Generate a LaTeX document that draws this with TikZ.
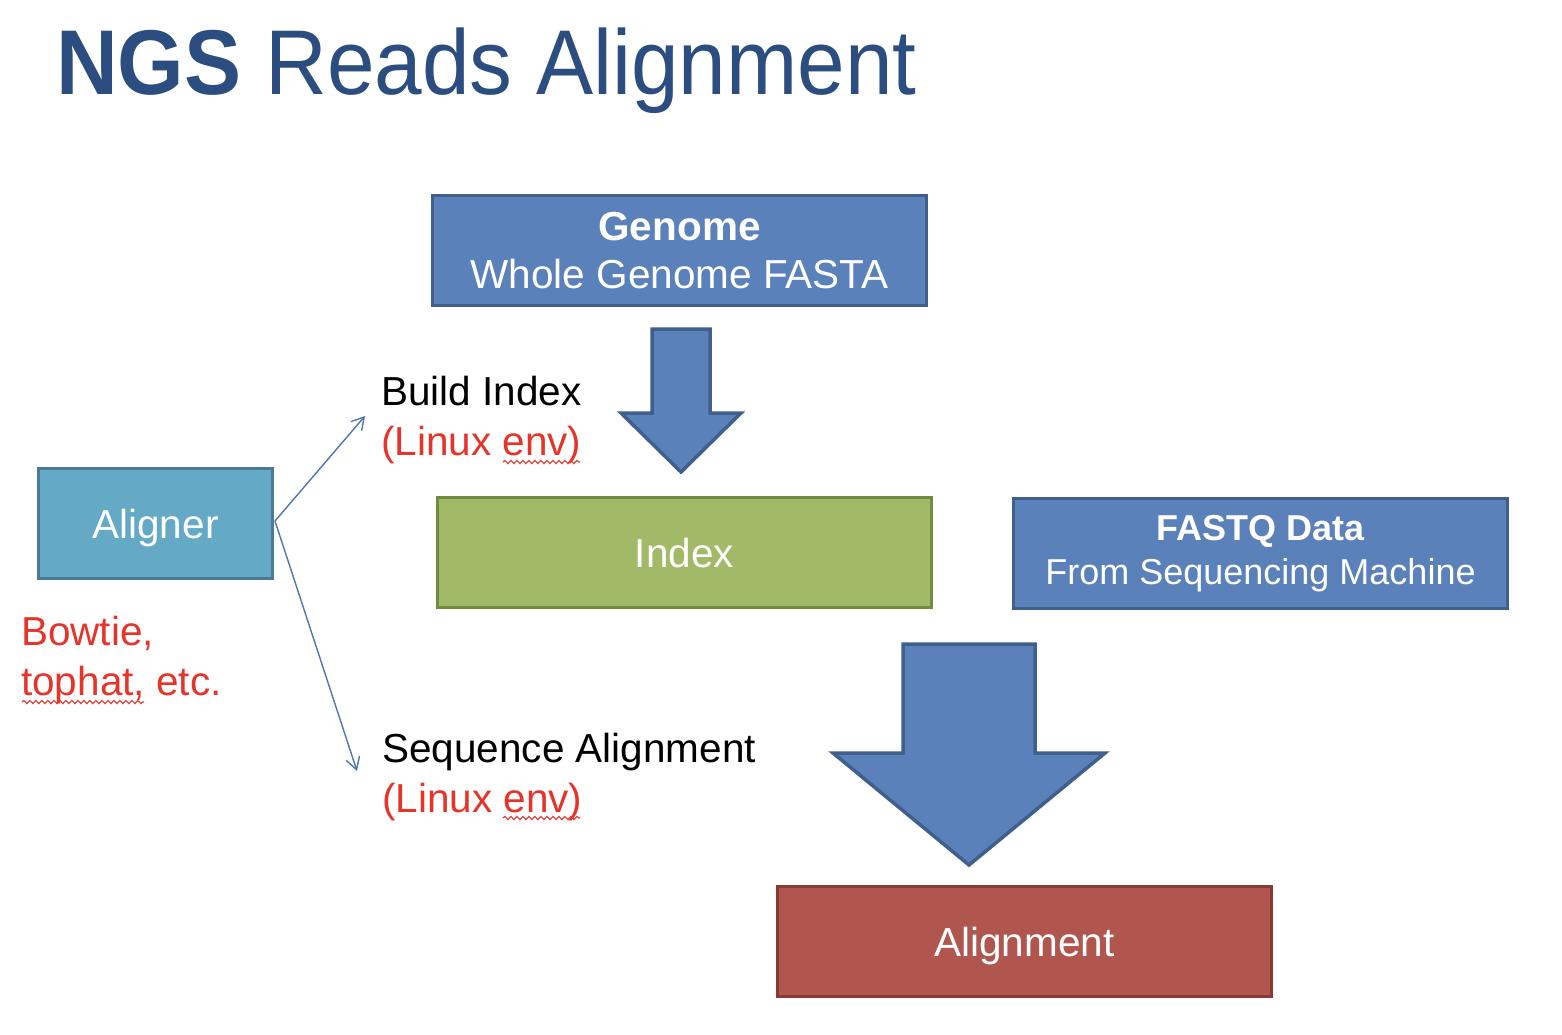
\documentclass[tikz,border=0pt]{standalone}
\usepackage{fontspec}
\setmainfont{Liberation Sans}
\usetikzlibrary{arrows.meta,decorations.pathmorphing}
\definecolor{titleblue}{HTML}{2C4D7F}
\definecolor{boxblue}{HTML}{5A81B9}
\definecolor{boxblueD}{HTML}{405F8C}
\definecolor{boxgreen}{HTML}{A2B967}
\definecolor{boxgreenD}{HTML}{728A40}
\definecolor{boxred}{HTML}{B0564F}
\definecolor{boxredD}{HTML}{8A3A35}
\definecolor{boxteal}{HTML}{64A9C5}
\definecolor{boxtealD}{HTML}{4A7B92}
\definecolor{linkblue}{HTML}{4E76B2}
\definecolor{txtred}{HTML}{E5352A}
\tikzset{
  box/.style={draw, line width=3.5pt, minimum width=494, minimum height=110, inner sep=0pt, text=white, align=center, font=\fontsize{40.5}{48}\selectfont},
  onebox/.style={box, text depth=0pt},
  blockarrow/.style={draw=boxblueD, fill=boxblue, line width=3.5pt, line join=miter},
  lbl/.style={anchor=base west, inner sep=0pt, font=\fontsize{40.5}{48}\selectfont},
  link/.style={draw=linkblue, line width=1.4pt, -{Straight Barb[length=12pt,width=14pt,line width=1.4pt]}},
  squiggle/.style={draw=txtred, line width=1.1pt, decorate, decoration={snake, segment length=6pt, amplitude=1.6pt}}
}
\begin{document}
\begin{tikzpicture}[x=1pt,y=-1pt]
\useasboundingbox (0,0) rectangle (1562,1034);
% title
\node[anchor=base west, inner sep=0pt, text=titleblue, font=\fontsize{92}{100}\selectfont] (title) at (56,94) {\scalebox{0.93}[1]{\textbf{NGS} Reads Alignment}};
% boxes
\node[box, draw=boxblueD, fill=boxblue] (genome) at (679.5,250.5) {\textbf{Genome}\\Whole Genome FASTA};
\node[onebox, draw=boxgreenD, fill=boxgreen] (index) at (684.5,552.5) {Index};
\node[box, draw=boxblueD, fill=boxblue, font=\fontsize{36}{44}\selectfont] (fastq) at (1260.5,553.5) {\textbf{FASTQ Data}\\From Sequencing Machine};
\node[onebox, draw=boxredD, fill=boxred] (align) at (1024.5,941.5) {Alignment};
\node[onebox, draw=boxtealD, fill=boxteal, minimum width=234] (aligner) at (155.5,523.5) {Aligner};
% block arrows
\draw[blockarrow] (652,329) -- (710,329) -- (710,413) -- (741,413) -- (681,472) -- (621,413) -- (652,413) -- cycle;
\draw[blockarrow] (903,644) -- (1035,644) -- (1035,753) -- (1105,753) -- (969,865) -- (833,753) -- (903,753) -- cycle;
% labels
\node[lbl] (bi) at (381,405) {Build Index};
\node[lbl, text=txtred] (bienv) at (381,455) {(Linux env)};
\node[lbl] (sa) at (382,762) {Sequence Alignment};
\node[lbl, text=txtred] (saenv) at (382,812) {(Linux env)};
\node[lbl, text=txtred] (bow) at (21,645) {Bowtie,};
\node[lbl, text=txtred] (top) at (21,695) {tophat, etc.};
% squiggles
\draw[squiggle] (503,462) -- (580,462);
\draw[squiggle] (503,818) -- (580,818);
\draw[squiggle] (22,702) -- (144,702);
% connectors
\coordinate (biend) at (365,416);
\coordinate (saend) at (357,771);
\coordinate (astart) at (275,521);
\draw[link] (astart) -- (biend);
\draw[link] (astart) -- (saend);
\end{tikzpicture}
\end{document}
